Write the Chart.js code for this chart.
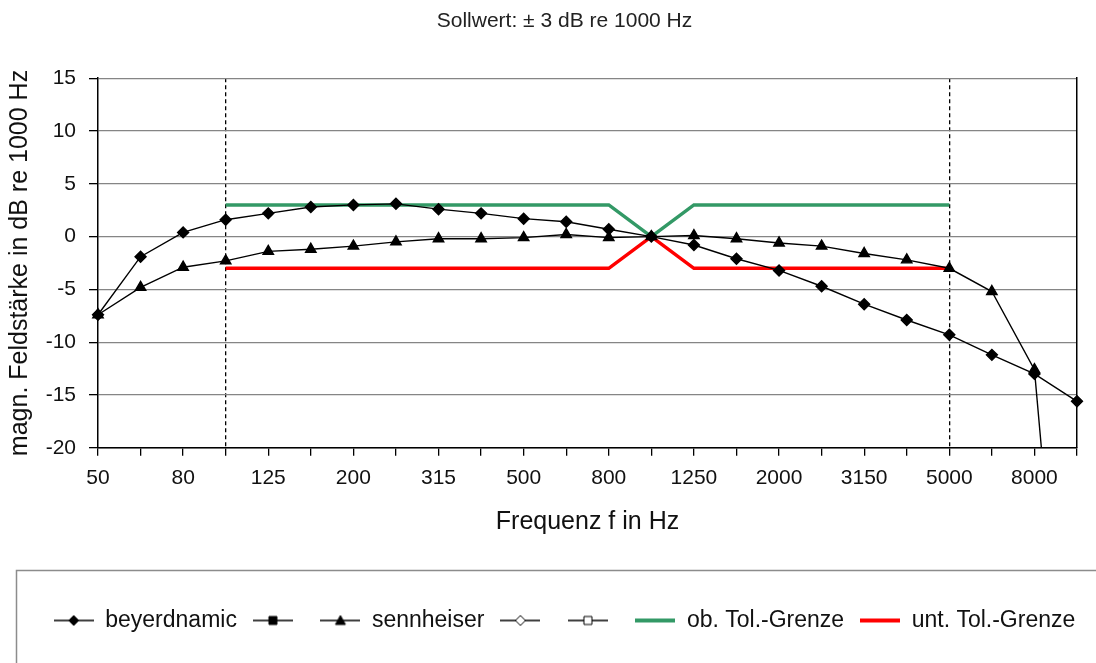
<!DOCTYPE html>
<html>
<head>
<meta charset="utf-8">
<script src="https://cdn.jsdelivr.net/npm/chart.js"></script>
<style>
  body { margin: 0; background: #fff; }
</style>
</head>
<body>
<canvas id="myChart" width="1096" height="663"></canvas>
<script>
const freqLabels = ['50', '63', '80', '100', '125', '160', '200', '250', '315', '400', '500', '630',
    '800', '1000', '1250', '1600', '2000', '2500', '3150', '4000', '5000', '6300', '8000', '10000'];

const beyerdynamic = [-7.4, -1.9, 0.4, 1.6, 2.2, 2.8, 3.0, 3.1, 2.6, 2.2, 1.7, 1.4,
    0.7, 0.0, -0.8, -2.1, -3.2, -4.7, -6.4, -7.9, -9.3, -11.2, -13.0, -15.6];

const sennheiser = [-7.4, -4.8, -2.9, -2.3, -1.4, -1.2, -0.9, -0.5, -0.2, -0.2, -0.1, 0.2,
    -0.1, 0.0, 0.1, -0.2, -0.6, -0.9, -1.6, -2.2, -3.0, -5.2, -12.6, -58];

const upperTol = [null, null, null, 3, 3, 3, 3, 3, 3, 3, 3, 3, 3, 0, 3, 3, 3, 3, 3, 3, 3, null, null, null];
const lowerTol = [null, null, null, -3, -3, -3, -3, -3, -3, -3, -3, -3, -3, 0, -3, -3, -3, -3, -3, -3, -3, null, null, null];

const yTicks = { min: -20, max: 15, step: 5 };
const limitIdx = [3, 20];   // 100 Hz and 5000 Hz, dashed lines

const FONT = "'Liberation Sans', Arial, sans-serif";

// little legend pictures: line with the marker in the middle
function legendMarker(color, lineW, shape, fill) {
    const c = document.createElement('canvas');
    c.width = 40; c.height = 16;
    const g = c.getContext('2d');
    g.strokeStyle = color;
    g.lineWidth = lineW;
    g.beginPath(); g.moveTo(0, 8); g.lineTo(40, 8); g.stroke();
    if (shape) {
        g.fillStyle = fill;
        g.strokeStyle = '#000';
        g.lineWidth = 1;
        g.beginPath();
        if (shape === 'diamond') {
            g.moveTo(20, 3); g.lineTo(25, 8); g.lineTo(20, 13); g.lineTo(15, 8);
        } else if (shape === 'square') {
            g.rect(16, 4, 8, 8);
        } else if (shape === 'triangle') {
            g.moveTo(20, 3); g.lineTo(25, 12); g.lineTo(15, 12);
        }
        g.closePath();
        g.fill();
        g.stroke();
    }
    return c;
}

const markers = [
    legendMarker('#000', 1.5, 'diamond', '#000'),
    legendMarker('#000', 1.5, 'square', '#000'),
    legendMarker('#000', 1.5, 'triangle', '#000'),
    legendMarker('#000', 1.5, 'diamond', '#fff'),
    legendMarker('#000', 1.5, 'square', '#fff'),
    legendMarker('#339966', 4, null),
    legendMarker('#ff0000', 4, null)
];

const legendFrame = {
    id: 'legendFrame',
    afterDraw(chart) {
        const c = chart.ctx;
        c.save();
        c.strokeStyle = '#8c8c8c';
        c.lineWidth = 1.5;
        c.strokeRect(16.5, 570.5, 1200, 300);
        c.restore();
    }
};

const ctx = document.getElementById('myChart').getContext('2d');

const chart = new Chart(ctx, {
    type: 'line',
    data: {
        labels: freqLabels,
        datasets: [{
            label: 'beyerdnamic',
            data: beyerdynamic,
            borderColor: '#000',
            borderWidth: 1.4,
            pointStyle: 'rectRot',
            pointRadius: 5.5,
            pointBackgroundColor: '#000',
            pointBorderColor: '#000',
            tension: 0
        }, {
            label: '',
            data: []
        }, {
            label: 'sennheiser',
            data: sennheiser,
            borderColor: '#000',
            borderWidth: 1.4,
            pointStyle: 'triangle',
            pointRadius: 6,
            pointBackgroundColor: '#000',
            pointBorderColor: '#000',
            tension: 0
        }, {
            label: '',
            data: []
        }, {
            label: '',
            data: []
        }, {
            label: 'ob. Tol.-Grenze',
            data: upperTol,
            borderColor: '#339966',
            borderWidth: 3.5,
            pointRadius: 0,
            spanGaps: false
        }, {
            label: 'unt. Tol.-Grenze',
            data: lowerTol,
            borderColor: '#ff0000',
            borderWidth: 3.5,
            pointRadius: 0,
            spanGaps: false
        }]
    },
    options: {
        responsive: false,
        animation: false,
        events: [],
        layout: {
            padding: { left: 33, right: 0, top: 0, bottom: 21 }
        },
        plugins: {
            title: {
                display: true,
                text: 'Sollwert: ± 3 dB re 1000 Hz',
                color: '#222',
                font: { family: FONT, size: 21, weight: 'normal', lineHeight: 1.2 },
                padding: { top: 9, bottom: 44 }
            },
            legend: {
                position: 'bottom',
                labels: {
                    color: '#111',
                    font: { family: FONT, size: 23 },
                    usePointStyle: true,
                    pointStyleWidth: 40,
                    padding: 16,
                    generateLabels: (c) => c.data.datasets.map((ds, i) => ({
                        text: ds.label,
                        pointStyle: markers[i],
                        datasetIndex: i,
                        hidden: false,
                        lineWidth: 0,
                        fillStyle: 'transparent',
                        strokeStyle: 'transparent',
                        fontColor: '#111'
                    }))
                }
            },
            tooltip: { enabled: false }
        },
        scales: {
            x: {
                grid: {
                    color: (c) => limitIdx.includes(c.index) ? '#000' : 'rgba(0,0,0,0)',
                    lineWidth: 1.3,
                    tickColor: '#000',
                    tickLength: 8
                },
                border: {
                    color: '#000',
                    width: 1.5,
                    dash: (c) => limitIdx.includes(c.index) ? [4, 3] : []
                },
                ticks: {
                    autoSkip: false,
                    maxRotation: 0,
                    padding: 10,
                    color: '#111',
                    font: { family: FONT, size: 21 },
                    callback: (v, i) => i % 2 === 0 ? freqLabels[i] : ''
                },
                title: {
                    display: true,
                    text: 'Frequenz f in Hz',
                    color: '#111',
                    font: { family: FONT, size: 25 },
                    padding: { top: 6, bottom: 56 }
                }
            },
            y: {
                min: yTicks.min,
                max: yTicks.max,
                afterFit: (s) => { s.width = 65; },
                grid: {
                    color: '#858585',
                    lineWidth: 1.3,
                    tickColor: '#000',
                    tickLength: 9
                },
                border: { color: '#000', width: 1.5 },
                ticks: {
                    stepSize: yTicks.step,
                    padding: 13,
                    color: '#111',
                    font: { family: FONT, size: 21 }
                },
                title: {
                    display: true,
                    text: 'magn. Feldstärke in dB re 1000 Hz',
                    color: '#111',
                    font: { family: FONT, size: 25 },
                    padding: { top: -28, bottom: 0 }
                }
            },
            // right frame of the plot area
            y2: {
                position: 'right',
                min: yTicks.min,
                max: yTicks.max,
                afterFit: (s) => { s.width = 19; },
                grid: { drawOnChartArea: false, drawTicks: false },
                border: { color: '#000', width: 1.5 },
                ticks: { display: false }
            }
        }
    },
    plugins: [legendFrame]
});
</script>
</body>
</html>
